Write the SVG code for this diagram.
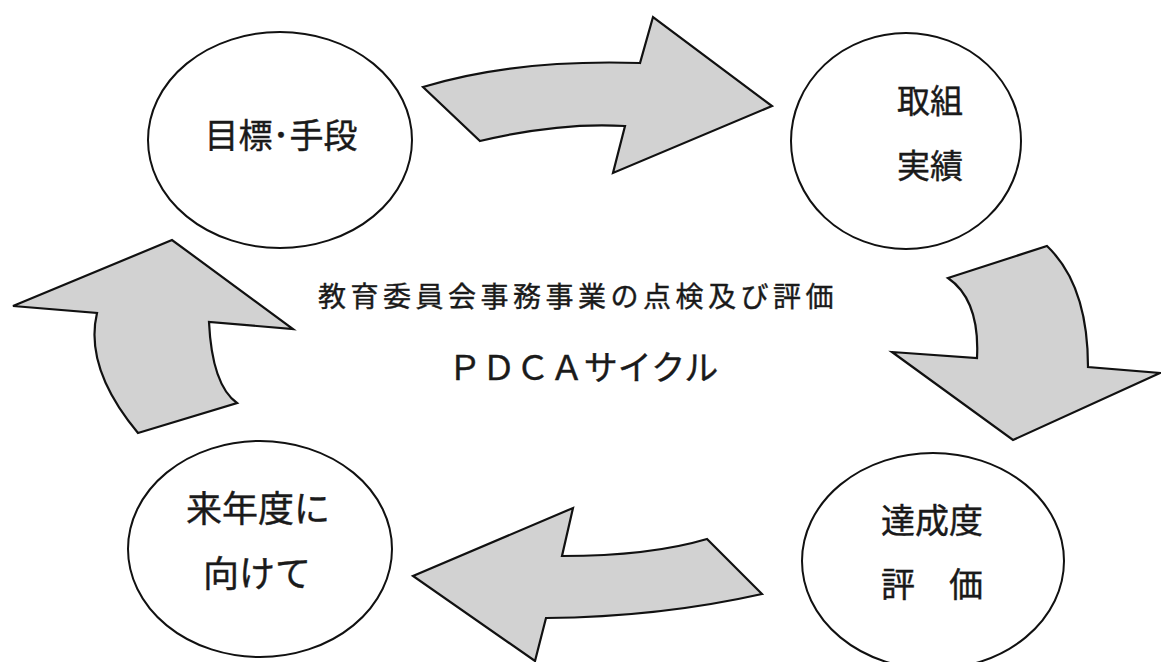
<svg xmlns="http://www.w3.org/2000/svg" width="1161" height="662" viewBox="0 0 1161 662">
<style>
.node{fill:#fff;stroke:#111;stroke-width:2}
.arr{fill:#d2d2d2;stroke:#111;stroke-width:2.2;stroke-linejoin:miter}
.t{font-family:"Noto Sans CJK JP","Noto Sans CJK SC",sans-serif;fill:#1a1a1a;stroke:#1a1a1a;stroke-width:0.4}
</style>
<rect width="1161" height="662" fill="#fff"/>
<g id="connectors">
<path class="arr" d="M423,87 Q515,59 640,63 L653,17 L772,106 L613,173 L625,126 Q560,122 480,141 Z"/>
<path class="arr" d="M948,278 L1047,246 Q1088,285 1088,367 L1160,373 L1013,440 L892,352 L977,358 Q980,300 948,278 Z"/>
<path class="arr" d="M562,556 Q650,556 707,539 L762,594 Q660,617 546,618 L535,661 L413,576 L573,508 Z"/>
<path class="arr" d="M138,433 L237,403 Q212,385 209,322 L293,329 L172,240 L13,306 L97,313 Q84,368 138,433 Z"/>
</g>
<g id="node-plan">
<ellipse class="node" cx="280" cy="140" rx="132" ry="108"/>
<text class="t" x="281" y="148" font-size="34" text-anchor="middle">目標･手段</text>
</g>
<g id="node-do">
<ellipse class="node" cx="906" cy="141" rx="115" ry="108"/>
<text class="t" x="930" y="113" font-size="33" text-anchor="middle">取組</text>
<text class="t" x="930" y="178" font-size="33" text-anchor="middle">実績</text>
</g>
<g id="node-check">
<ellipse class="node" cx="933" cy="561" rx="131" ry="108"/>
<text class="t" x="932" y="533" font-size="34" text-anchor="middle">達成度</text>
<text class="t" x="932" y="597" font-size="34" text-anchor="middle">評　価</text>
</g>
<g id="node-act">
<ellipse class="node" cx="260" cy="549" rx="132" ry="108"/>
<text class="t" x="258" y="522" font-size="36" text-anchor="middle">来年度に</text>
<text class="t" x="257" y="587" font-size="36" text-anchor="middle">向けて</text>
</g>
<g id="center-title">
<text class="t" x="578" y="307" font-size="28" text-anchor="middle" letter-spacing="4.5">教育委員会事務事業の点検及び評価</text>
<text class="t" x="583" y="380" font-size="34" text-anchor="middle">ＰＤＣＡサイクル</text>
</g>
</svg>
